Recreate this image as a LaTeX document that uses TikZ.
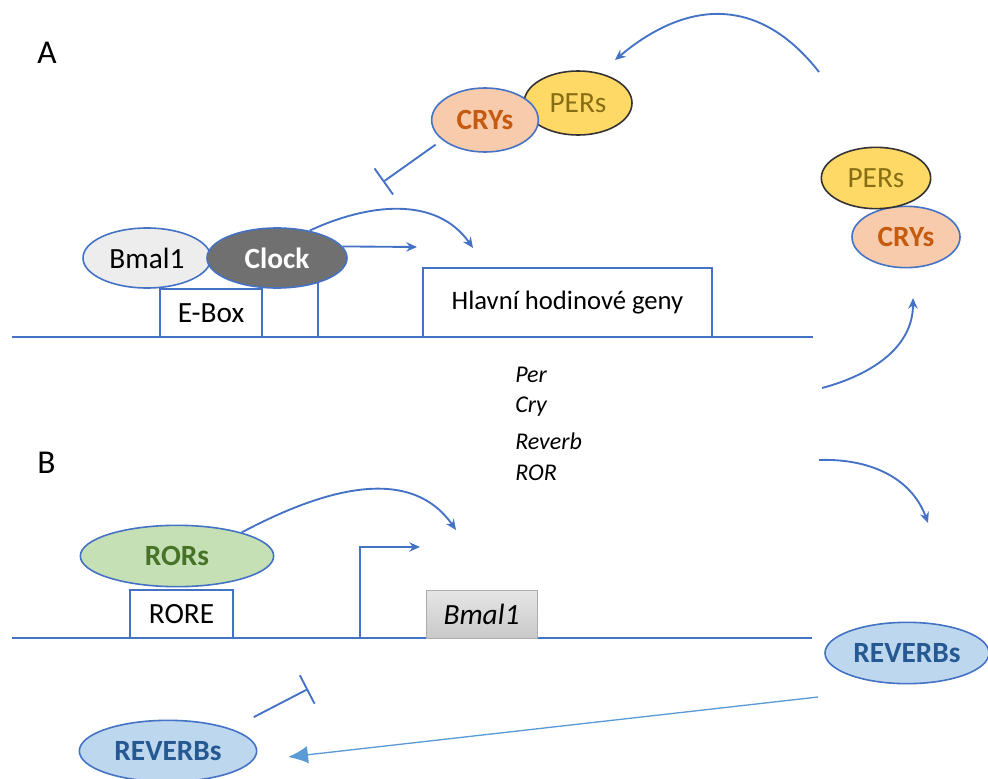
\documentclass[tikz,border=0pt]{standalone}
\usepackage{fontspec}
\setmainfont{Carlito}
\usetikzlibrary{shapes.geometric,arrows.meta,positioning}
\definecolor{dnablue}{RGB}{68,114,196}
\definecolor{thinblue}{RGB}{91,155,213}
\definecolor{cryfill}{RGB}{248,203,173}
\definecolor{crytext}{RGB}{197,90,17}
\definecolor{perfill}{RGB}{255,217,102}
\definecolor{pertext}{RGB}{135,110,20}
\definecolor{rorfill}{RGB}{197,224,180}
\definecolor{rortext}{RGB}{70,115,40}
\definecolor{revfill}{RGB}{189,215,238}
\definecolor{revtext}{RGB}{38,88,145}
\definecolor{bmalfill}{RGB}{237,237,237}
\definecolor{clockfill}{RGB}{112,112,112}

\begin{document}
\begin{tikzpicture}[x=0.75pt,y=0.75pt,yscale=-1,xscale=1,
  prot/.style={ellipse,draw=dnablue,line width=1.2pt,inner sep=0pt,font=\fontsize{22}{26}\selectfont},
  protbold/.style={prot,font=\fontsize{22}{26}\selectfont\bfseries},
  site/.style={rectangle,draw=dnablue,line width=1.2pt,inner sep=0pt,font=\fontsize{22}{26}\selectfont},
  act/.style={draw=dnablue,line width=1.4pt,-{Stealth[length=8pt,width=7pt]}},
  inhib/.style={draw=dnablue,line width=1.4pt,-{Bar[width=24pt]}},
  dna/.style={draw=dnablue,line width=1.4pt},
  gene/.style={font=\fontsize{18}{22}\selectfont\itshape,anchor=base west,inner sep=0pt},
  panel/.style={font=\fontsize{25}{30}\selectfont,anchor=base west,inner sep=0pt}]
%uncomment if require: \path (0,778); %diagram is 988 x 778
\useasboundingbox (0,0) rectangle (988,778);

% Text Node
\node[panel] (lblA) at (37,63) {A};
% Text Node
\node[panel] (lblB) at (37,473) {B};

%Straight Lines [DNA A]
\draw[dna] (12,337) -- (813,337);
%Shape: Rectangle [E-Box]
\node[site,minimum width=76.5pt,minimum height=36pt] (ebox) at (211,313) {E-Box};
%Straight Lines
\draw[dnablue,line width=1.2pt] (318,283) -- (318,337);
%Shape: Rectangle [genes]
\node[site,minimum width=216.75pt,minimum height=51.75pt,font=\fontsize{20}{24}\selectfont] (genes) at (567.5,302.5) {Hlavní hodinové geny};

%Shape: Ellipse [Bmal1, Clock]
\node[prot,fill=bmalfill,minimum width=96pt,minimum height=45pt] (bmal) at (147,258) {Bmal1};
\node[protbold,fill=clockfill,text=white,minimum width=105pt,minimum height=45pt] (clock) at (277,258) {Clock};

%Shape: Ellipse [PERs, CRYs top]
\node[prot,draw=black!80,fill=perfill,text=pertext,minimum width=81pt,minimum height=48pt] (persA) at (578,103) {PERs};
\node[protbold,fill=cryfill,text=crytext,minimum width=80pt,minimum height=48pt] (crysA) at (485,120) {CRYs};

%Shape: Ellipse [CRYs, PERs right]
\node[protbold,fill=cryfill,text=crytext,minimum width=81pt,minimum height=46pt] (crysR) at (906,237) {CRYs};
\node[prot,draw=black!80,fill=perfill,text=pertext,minimum width=82pt,minimum height=46pt] (persR) at (876,178) {PERs};

\coordinate (txA) at (417,247);
\coordinate (geneA) at (473,248);
\coordinate (blockA) at (383,182);
\coordinate (backS) at (819,72);
\coordinate (backE) at (615,60);
\coordinate (upS) at (822,388);
\coordinate (upE) at (913,298);
\coordinate (dnS) at (819,460);
\coordinate (dnE) at (928,523);

%Arrows A
\draw[act] (clock.10) -- (txA);
\draw[act] (clock.40) to[out=-25,in=-125] (geneA);
\draw[inhib,shorten <=6pt] (crysA.205) -- (blockA);
\draw[act] (backS) to[out=-128,in=-40,looseness=1.2] (backE);
\draw[act] (upS) to[out=-15,in=90] (upE);
\draw[act] (dnS) to[out=-2,in=-110] (dnE);

% Text Node [gene list]
\node[gene] (per) at (515,382) {Per};
\node[gene] (cry) at (515,412) {Cry};
\node[gene] (reverb) at (515,449) {Reverb};
\node[gene] (ror) at (515,480) {ROR};

%Straight Lines [DNA B]
\draw[dna] (12,638) -- (812,638);
%Shape: Rectangle [RORE, Bmal1 gene]
\node[site,minimum width=77pt,minimum height=36pt] (rore) at (181.5,614) {RORE};
\node[rectangle,draw=gray!65,top color=gray!20,bottom color=gray!42,inner sep=0pt,minimum width=83pt,minimum height=36pt,font=\fontsize{22}{26}\selectfont\itshape] (bmalgene) at (481.5,614) {Bmal1};

%Shape: Ellipse [RORs, REVERBs]
\node[protbold,fill=rorfill,text=rortext,minimum width=145pt,minimum height=46pt] (rors) at (177,556) {RORs};
\node[protbold,fill=revfill,text=revtext,minimum width=123pt,minimum height=46pt] (revR) at (907,653) {REVERBs};
\node[protbold,fill=revfill,text=revtext,minimum width=133pt,minimum height=46pt] (revB) at (168,751) {REVERBs};

\coordinate (tssB) at (360,638);
\coordinate (txB) at (420,547);
\coordinate (geneB) at (456,530);
\coordinate (longS) at (818,697);
\coordinate (longE) at (288,757);
\coordinate (blockB) at (308,689);

%Arrows B
\draw[act] (tssB) |- (txB);
\draw[act] (rors.20) to[out=-28,in=-125] (geneB);
\draw[thinblue,line width=1pt,-{Latex[length=15pt,width=13pt]}] (longS) -- (longE);
\draw[inhib,shorten <=19pt] (revB.north east) -- (blockB);

\end{tikzpicture}
\end{document}
